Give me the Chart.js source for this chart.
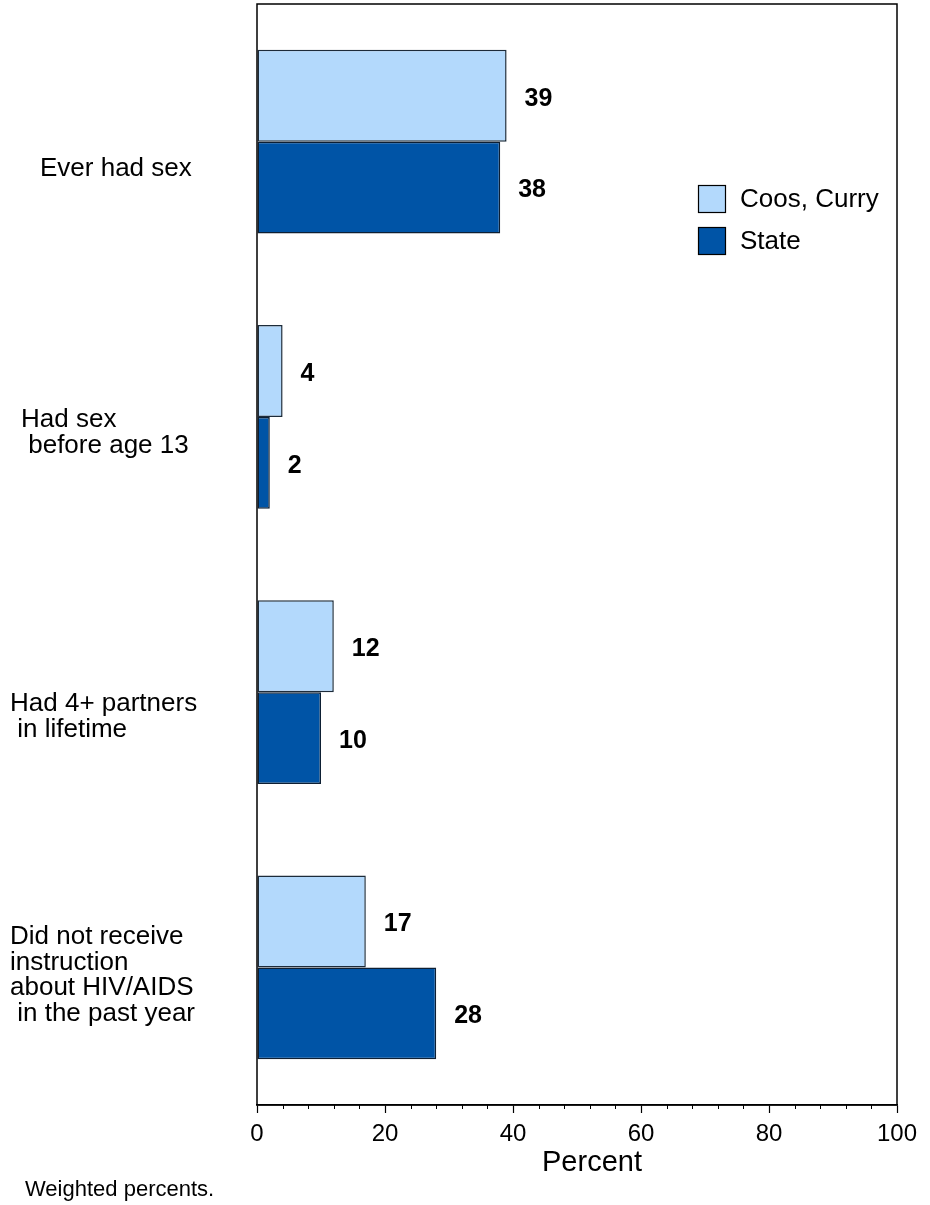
<!DOCTYPE html>
<html>
<head>
<meta charset="utf-8">
<script src="https://cdn.jsdelivr.net/npm/chart.js@4.4.1/dist/chart.umd.min.js"></script>
<style>
html,body{margin:0;padding:0;background:#fff;}
canvas{display:block;}
</style>
</head>
<body>
<canvas id="c" width="930" height="1205"></canvas>
<script>
const categories = [
  ["Ever had sex"],
  ["Had sex", " before age 13"],
  ["Had 4+ partners", " in lifetime"],
  ["Did not receive", "instruction", "about HIV/AIDS", " in the past year"]
];
const seriesNames = ["Coos, Curry", "State"];
const coosCurry = [39, 4, 12, 17];
const state = [38, 2, 10, 28];
const xTickLabels = [0, 20, 40, 60, 80, 100];

const FONT = '"Liberation Sans", Arial, Helvetica, sans-serif';

const overlay = {
  id: 'overlay',
  afterDatasetsDraw(chart) {
    const ctx = chart.ctx;
    const ca = chart.chartArea;
    const xs = chart.scales.x;
    const ys = chart.scales.y;
    ctx.save();
    // frame
    ctx.strokeStyle = '#000';
    ctx.lineWidth = 1.5;
    ctx.strokeRect(ca.left, ca.top, ca.right - ca.left, ca.bottom - ca.top);
    // minor ticks
    ctx.lineWidth = 1;
    xs.ticks.forEach((t, i) => {
      const px = Math.round(xs.getPixelForTick(i)) + 0.5;
      if (t.value % 20 !== 0) {
        ctx.beginPath();
        ctx.moveTo(px, ca.bottom);
        ctx.lineTo(px, ca.bottom + 4);
        ctx.stroke();
      }
    });
    // value labels
    ctx.fillStyle = '#000';
    ctx.font = 'bold 25px ' + FONT;
    ctx.textBaseline = 'middle';
    ctx.textAlign = 'left';
    chart.data.datasets.forEach((ds, di) => {
      const meta = chart.getDatasetMeta(di);
      meta.data.forEach((bar, i) => {
        ctx.fillText(String(ds.data[i]), bar.x + 18, bar.y + 3);
      });
    });
    // category labels
    const xOff = [40, 21, 10, 10];
    const dy = [27, 16, 25, 8];
    ctx.font = '26px ' + FONT;
    ctx.textBaseline = 'middle';
    const lh = 25.7;
    categories.forEach((lines, i) => {
      const cy = ys.getPixelForValue(i) + dy[i];
      const y0 = cy - (lines.length - 1) * lh / 2;
      lines.forEach((ln, j) => {
        ctx.fillText(ln, xOff[i], y0 + j * lh);
      });
    });
    // axis title
    ctx.font = '29px ' + FONT;
    ctx.textAlign = 'center';
    ctx.fillText('Percent', (ca.left + ca.right) / 2 + 15, 1163);
    // footnote
    ctx.font = '22px ' + FONT;
    ctx.textAlign = 'left';
    ctx.fillText('Weighted percents.', 25, 1190);
    // legend
    ctx.font = '26px ' + FONT;
    chart.data.datasets.forEach((ds, di) => {
      const bx = 698, by = 185 + di * 42;
      ctx.fillStyle = ds.backgroundColor;
      ctx.fillRect(bx, by, 28, 28);
      ctx.strokeStyle = '#000';
      ctx.lineWidth = 1.2;
      ctx.strokeRect(bx + 0.5, by + 0.5, 27, 27);
      ctx.fillStyle = '#000';
      ctx.fillText(ds.label, 740, by + 15);
    });
    ctx.restore();
  }
};

new Chart(document.getElementById('c'), {
  type: 'bar',
  data: {
    labels: categories.map(c => c.join(' ')),
    datasets: [
      { label: seriesNames[0], data: coosCurry, backgroundColor: '#B3D9FC', borderColor: '#1c2b3a', borderWidth: 1.5, borderSkipped: false },
      { label: seriesNames[1], data: state, backgroundColor: '#0054A6', borderColor: '#0d1f33', borderWidth: 1.5, borderSkipped: false }
    ]
  },
  options: {
    indexAxis: 'y',
    responsive: false,
    animation: false,
    devicePixelRatio: 1,
    layout: { padding: { left: 257, right: 33, top: 4, bottom: 0 } },
    datasets: { bar: { barPercentage: 1.0, categoryPercentage: 0.667 } },
    plugins: { legend: { display: false }, tooltip: { enabled: false } },
    scales: {
      y: { display: false, offset: true },
      x: {
        min: 0, max: 100,
        afterFit(scale) { scale.height = 100; },
        grid: { drawOnChartArea: false, tickLength: 8, tickWidth: 1.2,
                tickColor: (c) => (c.tick && c.tick.value % 20 === 0) ? '#000' : 'rgba(0,0,0,0)' },
        border: { display: true, color: '#000', width: 1.5 },
        ticks: {
          stepSize: 4, autoSkip: false, maxRotation: 0, padding: 7,
          color: '#000', font: { family: FONT, size: 24 },
          callback: (v) => xTickLabels.includes(v) ? String(v) : ''
        }
      }
    }
  },
  plugins: [overlay]
});
</script>
</body>
</html>
